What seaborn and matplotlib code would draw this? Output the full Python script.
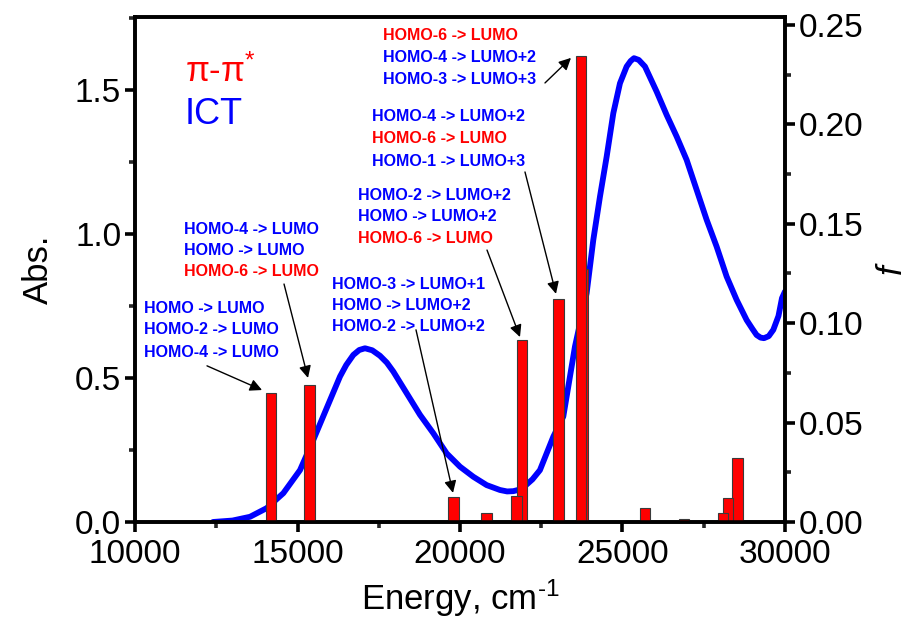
import matplotlib
matplotlib.use("Agg")
import matplotlib.pyplot as plt
from matplotlib.ticker import MultipleLocator
import seaborn as sns
import pandas as pd

# ---------------- data ----------------
# absorption spectrum (Abs.)
abs_energy = [12400, 13000, 13538, 14051, 14564, 15077, 15487, 15897, 16308, 16500,
              16718, 16900, 17077, 17300, 17538, 17750, 17949, 18359, 18769, 19179,
              19590, 20000, 20410, 20821, 21231, 21450, 21641, 21850, 22000, 22230,
              22460, 22871, 23179, 23538, 23897, 24102, 24308, 24513, 24718, 24923,
              25128, 25250, 25354, 25500, 25692, 26051, 26359, 26667, 26974, 27282,
              27590, 27897, 28205, 28513, 28821, 29000, 29128, 29250, 29354, 29500,
              29641, 29800, 29908, 30000]
abs_values = [0.000, 0.005, 0.018, 0.048, 0.100, 0.180, 0.285, 0.395, 0.505, 0.545,
              0.580, 0.597, 0.603, 0.596, 0.577, 0.553, 0.522, 0.447, 0.372, 0.308,
              0.238, 0.192, 0.157, 0.128, 0.111, 0.106, 0.107, 0.113, 0.125, 0.148,
              0.180, 0.296, 0.366, 0.609, 0.794, 0.979, 1.130, 1.268, 1.419, 1.523,
              1.581, 1.600, 1.610, 1.604, 1.581, 1.494, 1.413, 1.338, 1.257, 1.153,
              1.049, 0.956, 0.852, 0.771, 0.701, 0.670, 0.649, 0.640, 0.638, 0.645,
              0.667, 0.715, 0.777, 0.800]

# oscillator strengths (f) of calculated transitions
f_energy = [14185, 15370, 19800, 20815, 21740, 21910, 23030, 23720, 23785,
            25690, 26890, 28090, 28250, 28540]
f_values = [0.0649, 0.0689, 0.0126, 0.0045, 0.0131, 0.0915, 0.1122, 0.2344, 0.1273,
            0.0070, 0.0015, 0.0045, 0.0121, 0.0322]

x_ticks = [10000, 15000, 20000, 25000, 30000]
y_left_ticks = [0.0, 0.5, 1.0, 1.5]
y_right_ticks = [0.00, 0.05, 0.10, 0.15, 0.20, 0.25]

BLUE = "#0000FF"
RED = "#FF0000"

# annotation blocks: (x, [y per line], [(text, color)])
blocks = [
    (10277, [0.740, 0.667, 0.590],
     [("HOMO -> LUMO", BLUE), ("HOMO-2 -> LUMO", BLUE), ("HOMO-4 -> LUMO", BLUE)]),
    (11508, [1.017, 0.944, 0.868],
     [("HOMO-4 -> LUMO", BLUE), ("HOMO -> LUMO", BLUE), ("HOMO-6 -> LUMO", RED)]),
    (16062, [0.826, 0.753, 0.677],
     [("HOMO-3 -> LUMO+1", BLUE), ("HOMO -> LUMO+2", BLUE), ("HOMO-2 -> LUMO+2", BLUE)]),
    (16862, [1.135, 1.059, 0.983],
     [("HOMO-2 -> LUMO+2", BLUE), ("HOMO -> LUMO+2", BLUE), ("HOMO-6 -> LUMO", RED)]),
    (17292, [1.406, 1.330, 1.253],
     [("HOMO-4 -> LUMO+2", BLUE), ("HOMO-6 -> LUMO", RED), ("HOMO-1 -> LUMO+3", BLUE)]),
    (17631, [1.6875, 1.611, 1.535],
     [("HOMO-6 -> LUMO", RED), ("HOMO-4 -> LUMO+2", BLUE), ("HOMO-3 -> LUMO+3", BLUE)]),
]
arrows = [
    ((12215, 0.542), (13908, 0.458)),
    ((14585, 0.826), (15323, 0.500)),
    ((18646, 0.667), (19785, 0.101)),
    ((20831, 0.944), (21846, 0.642)),
    ((22000, 1.215), (22954, 0.792)),
    ((22615, 1.524), (23415, 1.611)),
]

# ---------------- style ----------------
sns.set_theme(style="ticks")
plt.rcParams["font.family"] = ["Liberation Sans", "DejaVu Sans"]
plt.rcParams["mathtext.fontset"] = "custom"
plt.rcParams["mathtext.rm"] = "Liberation Sans"
plt.rcParams["mathtext.it"] = "Liberation Sans:italic"
plt.rcParams["mathtext.bf"] = "Liberation Sans:bold"
plt.rcParams["axes.unicode_minus"] = False
plt.rcParams["text.color"] = "black"
plt.rcParams["axes.labelcolor"] = "black"

fig = plt.figure(figsize=(9.08, 6.22), dpi=100)
ax = fig.add_axes([0.1487, 0.1608, 0.8645 - 0.1487, 0.9727 - 0.1608])
ax2 = ax.twinx()

df_abs = pd.DataFrame({"Energy": abs_energy, "Abs": abs_values})
sns.lineplot(data=df_abs, x="Energy", y="Abs", ax=ax, color=BLUE, linewidth=4.2)

# bars: drawn high energy first so lower-energy bars sit on top
ax2.bar(f_energy[::-1], f_values[::-1], width=320, color=RED,
        edgecolor="#3a3a3a", linewidth=0.8, align="center")

ax.set_xlim(10000, 30000)
ax.set_ylim(0, 1.753)
ax2.set_ylim(0, 0.254)

ax.set_xticks(x_ticks)
ax.set_yticks(y_left_ticks)
ax.set_yticklabels([f"{v:.1f}" for v in y_left_ticks])
ax2.set_yticks(y_right_ticks)
ax2.set_yticklabels([f"{v:.2f}" for v in y_right_ticks])
ax.xaxis.set_minor_locator(MultipleLocator(2500))
ax.yaxis.set_minor_locator(MultipleLocator(0.25))
ax2.yaxis.set_minor_locator(MultipleLocator(0.025))

for a in (ax, ax2):
    for s in a.spines.values():
        s.set_linewidth(2.6)
        s.set_color("black")
    a.tick_params(which="major", direction="out", length=7, width=2.6,
                  labelsize=24, colors="black", pad=3)
    a.tick_params(which="minor", direction="out", length=4, width=2.6)
ax.tick_params(axis="x", which="both", top=False)
ax.tick_params(axis="x", which="major", pad=5)

ax.set_xlabel(r"Energy, cm$^{\text{-}1}$", fontsize=25, labelpad=6, color="black")
ax.set_ylabel("Abs.", fontsize=25, labelpad=14, color="black")
ax2.set_ylabel("f", fontsize=25, style="italic", labelpad=8, color="black")

# legend-like labels
ax.text(11538, 1.5625, "π-π$^{*}$", color=RED, fontsize=25, va="center", ha="left")
ax.text(11538, 1.413, "ICT", color=BLUE, fontsize=26, va="center", ha="left")

for x0, ys, lines in blocks:
    for y0, (txt, col) in zip(ys, lines):
        ax.text(x0, y0, txt, color=col, fontsize=11.5, fontweight="bold",
                va="center", ha="left")

for (xs, ys), (xe, ye) in arrows:
    ax.annotate("", xy=(xe, ye), xytext=(xs, ys),
                arrowprops=dict(arrowstyle="-|>", color="black", lw=1.0,
                                mutation_scale=18, shrinkA=0, shrinkB=0))

fig.savefig("out.png", dpi=100)
